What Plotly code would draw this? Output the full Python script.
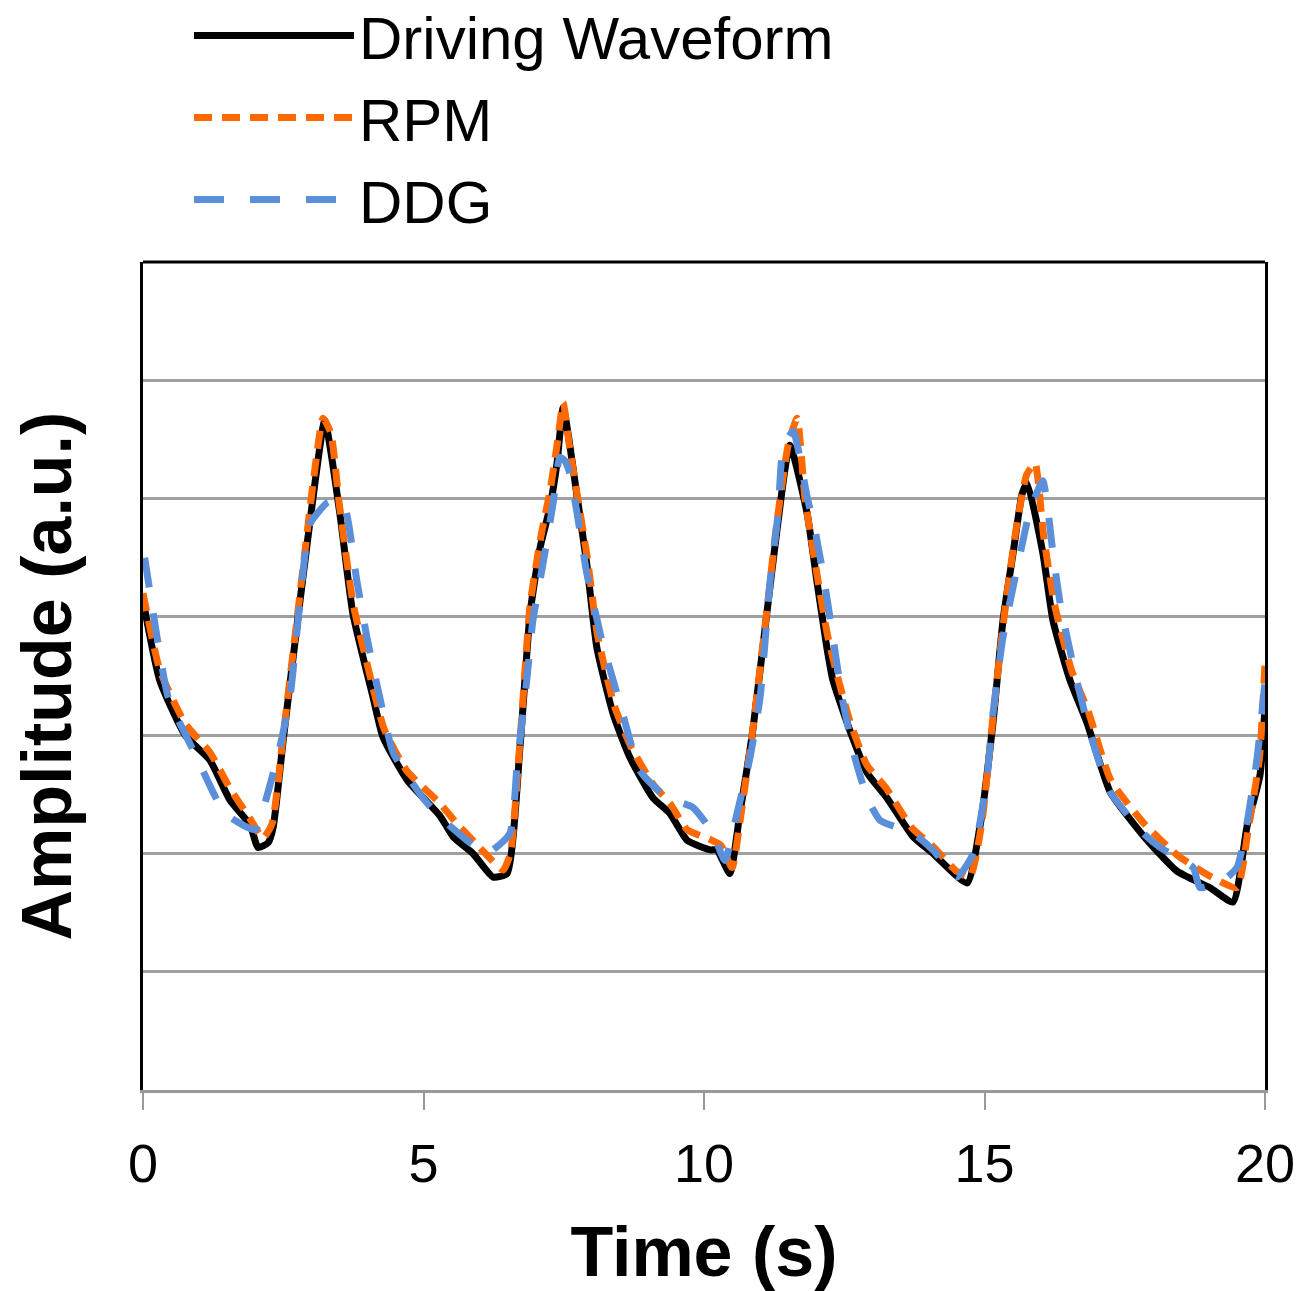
import plotly.graph_objects as go

# Driving waveform (black)
t_drive = [0.00, 0.30, 0.75, 1.19, 1.55, 1.91, 2.05, 2.23, 2.32, 2.50, 2.80, 3.07, 3.24,
           3.51, 3.74, 4.10, 4.28, 4.71, 5.29, 5.53, 5.88, 6.24, 6.49, 6.72, 6.90, 7.08,
           7.25, 7.38, 7.49, 7.74, 7.91, 8.09, 8.38, 8.68, 9.09, 9.39, 9.70, 10.11, 10.23,
           10.46, 10.64, 10.87, 11.12, 11.30, 11.53, 11.84, 12.01, 12.19, 12.30, 12.60,
           12.91, 13.26, 13.73, 14.08, 14.69, 14.92, 15.15, 15.33, 15.51, 15.67, 15.76,
           16.04, 16.22, 16.52, 16.83, 17.24, 17.83, 18.43, 19.02, 19.43, 19.68, 19.91, 20.00]
v_drive = [4.14, 3.46, 3.00, 2.79, 2.45, 2.24, 2.05, 2.09, 2.22, 2.96, 4.14, 5.15, 5.66,
           4.87, 4.03, 3.32, 2.98, 2.62, 2.32, 2.14, 2.00, 1.80, 1.83, 2.90, 4.03, 4.59,
           4.92, 5.30, 5.77, 5.01, 4.45, 3.74, 3.18, 2.81, 2.47, 2.34, 2.11, 2.03, 2.03,
           1.83, 2.34, 3.04, 4.03, 4.73, 5.45, 4.87, 4.31, 3.74, 3.46, 3.04,
           2.68, 2.47, 2.14, 2.00, 1.75, 2.23, 3.10, 3.97, 4.54, 5.04, 5.13,
           4.54, 3.97, 3.47, 3.10, 2.52, 2.15, 1.85, 1.71, 1.59, 2.23, 2.66, 3.24]

# RPM (orange)
t_rpm = [0.00, 0.30, 0.75, 1.20, 1.55, 1.90, 2.14, 2.30, 2.50, 2.80, 3.05, 3.21, 3.35,
         3.50, 3.75, 4.10, 4.30, 4.70, 5.30, 5.60, 5.90, 6.20, 6.42, 6.55, 6.72, 6.90,
         7.10, 7.25, 7.38, 7.49, 7.60, 7.75, 7.92, 8.10, 8.40, 8.70, 9.10, 9.40, 9.70,
         10.10, 10.30, 10.50, 10.65, 10.87, 11.12, 11.30, 11.50, 11.66, 11.80, 12.00,
         12.20, 12.35, 12.60, 12.90, 13.25, 13.70, 14.10, 14.50, 14.74, 14.95, 15.15,
         15.35, 15.55, 15.75, 15.90, 16.05, 16.25, 16.55, 16.85, 17.25, 17.85, 18.45,
         19.05, 19.50, 19.70, 19.90, 20.00]
v_rpm = [4.20, 3.55, 3.10, 2.85, 2.55, 2.30, 2.13, 2.25, 3.00, 4.20, 5.20, 5.68, 5.55,
         4.95, 4.10, 3.40, 3.05, 2.70, 2.42, 2.25, 2.10, 1.95, 1.86, 2.00, 2.95, 4.10,
         4.70, 5.05, 5.45, 5.81, 5.45, 5.00, 4.50, 3.85, 3.25, 2.90, 2.58, 2.42, 2.20,
         2.12, 2.07, 1.88, 2.30, 3.05, 4.05, 4.80, 5.45, 5.68, 5.00, 4.40,
         3.85, 3.55, 3.12, 2.75, 2.55, 2.22, 2.05, 1.85, 1.80, 2.25, 3.15,
         4.00, 4.70, 5.20, 5.30, 4.70, 4.10, 3.55, 3.20, 2.62, 2.25, 1.98,
         1.80, 1.71, 2.20, 2.80, 3.60]

# DDG (blue)
t_ddg = [0.03, 0.25, 0.45, 0.96, 1.46, 2.00, 2.17, 2.44, 2.62, 2.85, 2.98, 3.30, 3.57,
         3.81, 3.99, 4.22, 4.46, 4.99, 5.29, 5.83, 6.13, 6.54, 6.67, 6.84, 6.95, 7.13,
         7.31, 7.43, 7.52, 7.61, 7.74, 7.91, 8.18, 8.50, 8.86, 9.34, 9.80, 10.16, 10.37,
         10.59, 10.82, 11.00, 11.18, 11.32, 11.41, 11.59, 11.84, 11.98, 12.12, 12.28,
         12.46, 12.69, 12.91, 13.14, 13.73, 14.08, 14.51, 14.80, 15.04, 15.15, 15.33,
         15.63, 15.81, 16.04, 16.11, 16.22, 16.35, 16.58, 16.88, 17.24, 17.83, 18.13,
         18.72, 18.84, 19.25, 19.50, 19.68, 19.86, 20.00]
v_ddg = [4.50, 3.83, 3.32, 2.81, 2.34, 2.20, 2.42, 2.90, 3.32, 4.37, 4.79, 4.97, 4.96,
         4.31, 3.83, 3.32, 2.85, 2.47, 2.31, 2.09, 2.00, 2.17, 2.76, 3.46, 3.97, 4.45,
         4.96, 5.35, 5.32, 5.21, 4.87, 4.37, 3.80, 3.27, 2.70, 2.47, 2.39, 2.17, 1.94,
         2.34, 2.81, 3.32, 4.31, 4.87, 5.43, 5.57, 5.01, 4.73, 4.37, 3.89,
         3.32, 2.81, 2.47, 2.28, 2.17, 2.03, 1.80, 2.00, 2.62, 3.18, 3.83,
         4.52, 4.90, 5.15, 4.98, 4.54, 4.11, 3.59, 3.02, 2.52, 2.17, 2.05,
         1.88, 1.71, 1.77, 1.88, 2.26, 2.81, 3.45]

x_ticks = [0, 5, 10, 15, 20]

FONT = "Liberation Sans, Arial, sans-serif"

fig = go.Figure()
fig.add_trace(go.Scatter(x=t_drive, y=v_drive, mode="lines", name="Driving Waveform",
                         legendgroup="a",
                         line=dict(color="black", width=7, shape="spline", smoothing=0.5)))
fig.add_trace(go.Scatter(x=t_rpm, y=v_rpm, mode="lines", name="RPM",
                         legendgroup="b",
                         line=dict(color="#ff6a00", width=7, dash="18px,10px",
                                   shape="spline", smoothing=0.5)))
fig.add_trace(go.Scatter(x=t_ddg, y=v_ddg, mode="lines", name="DDG",
                         legendgroup="c",
                         line=dict(color="#5b8fd9", width=7, dash="30px,26px",
                                   shape="spline", smoothing=0.5)))

fig.update_layout(
    width=1316, height=1291,
    margin=dict(l=135, r=59, t=254, b=209, autoexpand=False),
    plot_bgcolor="white", paper_bgcolor="white",
    font=dict(family=FONT, color="black"),
    showlegend=True,
    legend=dict(xref="paper", yref="paper", x=0.041, y=1.3285,
                xanchor="left", yanchor="top", bgcolor="rgba(0,0,0,0)",
                font=dict(size=60, family=FONT), itemwidth=160,
                tracegroupgap=1),
    xaxis=dict(range=[0, 20], tickmode="array", tickvals=x_ticks,
               ticktext=[str(v) for v in x_ticks],
               showgrid=False, zeroline=False,
               showline=True, linecolor="#999999", linewidth=3,
               ticks="outside", ticklen=17, tickwidth=2, tickcolor="#999999",
               tickfont=dict(size=54, family=FONT), ticklabelstandoff=7,
               title=dict(text="<b>Time (s)</b>", font=dict(size=70, family=FONT),
                          standoff=36)),
    yaxis=dict(range=[0, 7], dtick=1, showticklabels=False,
               showgrid=True, gridcolor="#a0a0a0", gridwidth=3, zeroline=False,
               showline=True, linecolor="black", linewidth=3, mirror=True,
               ticks=""),
    annotations=[dict(text="<b>Amplitude (a.u.)</b>", xref="paper", yref="paper",
                      x=-0.086, y=0.5, textangle=-90, showarrow=False,
                      xanchor="center", yanchor="middle",
                      font=dict(size=70, family=FONT, color="black"))],
    shapes=[dict(type="line", xref="paper", yref="paper", x0=0, x1=1, y0=1, y1=1,
                 line=dict(color="black", width=3))],
)

fig.write_html("out.html")
